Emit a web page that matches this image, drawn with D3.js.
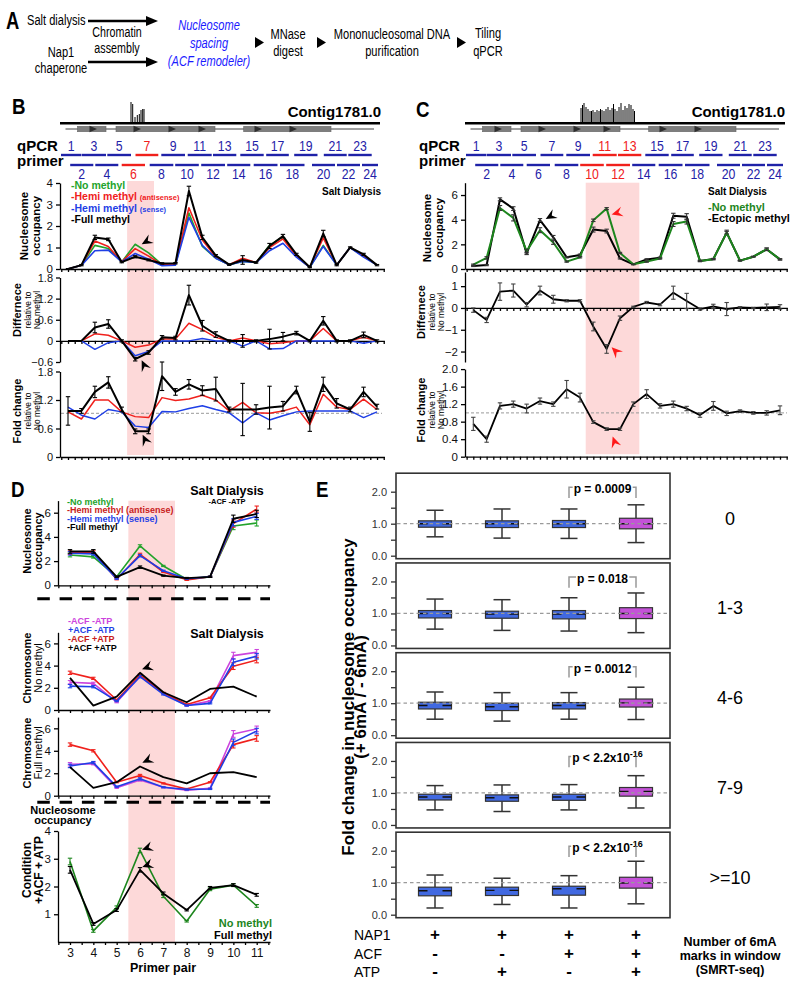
<!DOCTYPE html>
<html><head><meta charset="utf-8">
<script src="https://cdn.jsdelivr.net/npm/d3@7"></script>
<style>body{margin:0;background:#fff}svg{display:block}</style>
</head><body><svg id="fig" width="800" height="991"></svg>
<script>
// ================= DATA =================
// qPCR primers (position along contig window, arbitrary units)
const primerOdd = [1,3,5,7,9,11,13,15,17,19,21,23];
const primerOddStart = [1,22,47.3,75.5,101.3,127.7,153,180.3,206.2,234.2,263.8,288.3];
const primerOddEnd = [21.5,46,71,98.3,125,151.7,176.3,203.7,228.8,257.5,286.7,311.7];
const primerEven = [2,4,6,8,10,12,14,16,18,20,22,24];
const primerEvenStart = [10.2,35.3,61.7,89.7,115.2,141.2,167.2,193.7,220,252,277,302];
const primerEvenEnd = [33.3,58.3,85,113.3,138.8,165,190.3,217.5,244.5,275,300,318];
const redPrimersB = [6,7];
const redPrimersC = [10,11,12,13];
const contigExtent = [0,320];
const geneLineExtent = [5.5,314];
const geneStart = [17.5,56,183.7];
const geneEnd = [46,155,271];
const geneArrowPos = [33,77,112,142,198,233];
const marksBPos = [71,72.7,75,77.3,79.3,81,82.7,84];
const marksBH = [21,19,6,8,9,13,14,14];
const marksCPos = [116,117.5,119,121,123,125,126.5,128,130,132,134,135.5,137,139,141,143,145,147,148.5,150,152,154,156,158,160,162,164,166,168,169.5];
const marksCH = [15,18,20,16,14,12,12,13,11,13,12,14,13,12,14,16,13,15,19,14,12,16,20,13,17,15,19,18,14,12];

// Panel B (primer pairs 1..24)
const primerPairs24 = d3.range(1,25);
const bOccGreen = [0,0.17,1.1,0.95,0.33,1.15,0.75,0.2,0.22,2.6,1.05,0.5,0.2,0.35,0.3,1.1,1.5,0.6,0.08,1.1,0.18,1.0,0.6,0.18];
const bOccRed   = [0,0.17,1.3,1.05,0.33,0.95,0.6,0.2,0.22,2.85,1.35,0.55,0.2,0.5,0.3,1.0,1.4,0.6,0.08,1.45,0.18,1.0,0.62,0.18];
const bOccBlue  = [0,0.17,0.85,0.88,0.33,0.72,0.45,0.15,0.18,2.4,1.1,0.5,0.2,0.35,0.3,0.85,1.2,0.55,0.08,1.05,0.18,1.0,0.55,0.18];
const bOccBlack = [0,0.18,1.47,1.38,0.32,0.57,0.42,0.26,0.27,3.63,1.47,0.62,0.2,0.42,0.3,1.07,1.53,0.68,0.08,1.65,0.18,1.0,0.68,0.18];
const bOccBlackErr = [0.02,0.03,0.1,0.06,0.03,0.05,0.04,0.03,0.03,0.22,0.1,0.05,0.03,0.2,0.03,0.12,0.08,0.05,0.02,0.15,0.03,0.03,0.05,0.03];
const bDiffRed   = [0,0,0.2,0.16,0,-0.18,-0.12,0.05,0.05,0.5,0.32,0.1,0,0.08,0,-0.08,-0.05,0,0,0.35,0,0,0.1,0];
const bDiffBlue  = [0,0,-0.24,-0.05,0,-0.42,-0.3,0,0,0,0.07,0,0,-0.15,0,-0.23,-0.22,0,0,0,0,0,-0.07,0];
const bDiffBlack = [0,0,0.38,0.48,0,-0.52,-0.33,0.1,0.08,1.3,0.43,0.18,0,0,0,0.05,0.12,0.22,0,0.57,0,0,0.17,0];
const bDiffBlackErr = [0,0,0.15,0.12,0.03,0.05,0.05,0.05,0.05,0.28,0.15,0.08,0.03,0.18,0.03,0.28,0.12,0.05,0.03,0.12,0.03,0.03,0.08,0.03];
const bFoldRed   = [0.95,0.8,1.2,1.2,0.95,0.85,0.83,1.25,1.19,1.22,1.3,1.2,0.97,1.15,0.93,0.92,0.97,1.05,0.68,1.32,1.05,1.0,1.22,1.0];
const bFoldBlue  = [1.05,0.88,0.8,1.0,0.95,0.65,0.62,0.96,0.95,1.02,1.08,1.0,0.93,0.72,0.93,0.78,0.87,0.95,0.97,0.97,0.97,0.97,0.83,0.95];
const bFoldBlack = [0.97,0.97,1.37,1.57,1.0,0.54,0.54,1.7,1.37,1.53,1.4,1.43,1.0,1.0,1.0,1.04,1.07,1.41,0.74,1.53,1.13,1.0,1.37,1.06];
const bFoldBlackErr = [0.3,0.05,0.12,0.12,0.05,0.05,0.05,0.3,0.07,0.1,0.1,0.25,0.05,0.55,0.1,0.45,0.1,0.08,0.2,0.15,0.1,0.05,0.1,0.05];
const bFoldRef = 0.92;
const pinkB = [5.4,7.4];

// Panel C
const cOccGreen = [0.35,0.9,4.95,4.15,1.45,3.15,2.15,0.6,0.95,3.95,4.9,1.3,0.38,0.6,0.85,3.65,3.85,0.65,0.8,2.95,0.68,1.0,1.6,0.78];
const cOccGreenErr = [0.05,0.1,0.2,0.25,0.15,0.2,0.15,0.05,0.05,0.1,0.08,0.05,0.03,0.05,0.05,0.2,0.2,0.05,0.05,0.1,0.03,0.03,0.1,0.05];
const cOccBlack = [0.25,0.32,5.65,4.9,1.27,3.97,2.57,0.95,1.13,3.2,3.08,0.86,0.38,0.78,0.92,4.32,4.24,0.65,0.81,2.95,0.68,1.0,1.6,0.78];
const cOccBlackErr = [0.05,0.05,0.12,0.15,0.1,0.12,0.15,0.05,0.08,0.2,0.15,0.05,0.03,0.05,0.05,0.2,0.25,0.05,0.05,0.2,0.03,0.03,0.1,0.05];
const cDiff = [-0.1,-0.55,0.75,0.8,0.15,0.8,0.4,0.33,0.33,-0.85,-1.88,-0.47,0.05,0.25,0.15,0.7,0.32,-0.05,0.07,-0.05,0.03,0,0.03,0.05];
const cDiffErr = [0.1,0.12,0.4,0.3,0.1,0.2,0.18,0.05,0.05,0.2,0.2,0.1,0.03,0.05,0.05,0.3,0.35,0.05,0.1,0.3,0.03,0.03,0.15,0.1];
const cFold = [0.75,0.4,1.16,1.2,1.1,1.27,1.2,1.54,1.35,0.79,0.63,0.63,1.2,1.43,1.16,1.2,1.1,0.95,1.16,0.99,1.04,1.0,1.0,1.06];
const cFoldErr = [0.15,0.07,0.07,0.07,0.1,0.07,0.05,0.2,0.1,0.03,0.03,0.03,0.05,0.1,0.05,0.07,0.05,0.05,0.1,0.05,0.03,0.03,0.05,0.1];
const cFoldRef = 1.0;
const pinkC = [9.43,13.45];

// Panel D (primer pairs 3..11)
const primerPairsD = [3,4,5,6,7,8,9,10,11];
const dOccGreen = [2.5,2.35,0.7,3.25,1.6,0.5,0.7,4.9,5.15];
const dOccRed   = [2.7,2.75,0.5,2.55,1.1,0.45,0.7,5.1,6.3];
const dOccBlue  = [2.65,2.6,0.55,2.45,1.2,0.55,0.7,5.2,5.7];
const dOccBlack = [2.8,2.8,0.7,1.5,0.8,0.6,0.7,5.5,5.9];
const dOccErr   = [0.15,0.15,0.05,0.1,0.05,0.05,0.05,0.3,0.3];
const dNoMag   = [2.5,2.4,0.7,3.05,1.5,0.4,0.8,4.9,5.2];
const dNoBlue  = [2.15,2.1,0.8,3.0,1.4,0.4,0.6,4.3,4.85];
const dNoRed   = [3.35,2.85,0.9,3.15,1.55,0.5,1.1,3.95,4.5];
const dNoBlack = [2.9,0.4,1.2,3.35,1.6,0.7,1.9,2.1,1.2];
const dFullMag   = [2.8,2.85,0.7,1.4,0.75,0.5,0.65,5.5,5.95];
const dFullBlue  = [2.65,2.95,0.8,1.5,0.75,0.55,0.6,4.75,5.75];
const dFullRed   = [4.55,4.0,1.2,1.8,1.1,0.6,1.2,4.55,5.1];
const dFullBlack = [2.55,0.7,1.2,2.6,1.65,1.1,2.0,2.1,1.65];
const dSmallErr  = [0.15,0.1,0.05,0.1,0.05,0.05,0.05,0.3,0.25];
const dCondGreen = [2.9,0.4,1.25,3.3,1.65,0.75,1.9,2.05,1.3];
const dCondBlack = [2.6,0.65,1.15,2.6,1.75,1.15,1.95,2.05,1.7];
const dCondErr   = [0.12,0.05,0.05,0.08,0.05,0.03,0.05,0.05,0.05];
const pinkD = [5.5,7.5];

// Panel E (box plots)
const eCond = ['NAP1','NAP1+ATP','NAP1+ACF','NAP1+ACF+ATP'];
const eLabels = ['0','1-3','4-6','7-9','>=10'];
const ePvals = ['p = 0.0009','p = 0.018','p = 0.0012','p < 2.2x10','p < 2.2x10'];
const ePsup  = ['','','','-16','-16'];
const eWhiskLo = [[0.59,0.55,0.54,0.41],[0.51,0.47,0.45,0.40],[0.50,0.44,0.50,0.49],[0.47,0.42,0.47,0.53],[0.21,0.32,0.21,0.34]];
const eQ1      = [[0.89,0.88,0.88,0.84],[0.86,0.85,0.83,0.84],[0.82,0.77,0.82,0.88],[0.78,0.74,0.77,0.90],[0.59,0.60,0.61,0.83]];
const eMed     = [[1.0,1.0,1.0,1.0],[1.0,0.98,0.98,1.0],[0.93,0.89,0.93,1.01],[0.875,0.85,0.875,1.05],[0.75,0.76,0.81,0.99]];
const eQ3      = [[1.09,1.09,1.10,1.17],[1.09,1.07,1.09,1.18],[1.03,1.0,1.02,1.13],[0.96,0.94,0.96,1.17],[0.86,0.86,0.89,1.17]];
const eWhiskHi = [[1.42,1.46,1.46,1.59],[1.45,1.43,1.49,1.64],[1.35,1.33,1.33,1.50],[1.23,1.25,1.26,1.54],[1.24,1.14,1.22,1.67]];
const eNAP1 = ['+','+','+','+'];
const eACF  = ['-','-','+','+'];
const eATP  = ['-','+','-','+'];

// ================= STYLE =================
const FF = "'Liberation Sans', Arial, Helvetica, sans-serif";
const GREEN_B = '#23a32b', GREEN_C = '#1d861d', RED = '#f0201c', BLUE = '#1f3fe6', MAG = '#cc44dd',
      NAVY = '#1f22a8', PINK = '#fdd9d9', BOXBLUE = '#4169e1', BOXMAG = '#c452d8';

const svg = d3.select('#fig');
svg.append('rect').attr('width',800).attr('height',991).attr('fill','#fff');

function T(g, x, y, s, o = {}) {
  let tr = `translate(${x},${y})`;
  if (o.rot) tr += ` rotate(${o.rot})`;
  if (o.sx) tr += ` scale(${o.sx},1)`;
  const t = g.append('text').attr('transform', tr)
    .attr('font-family', FF).attr('font-size', o.size || 12)
    .attr('font-weight', o.bold ? 'bold' : 'normal')
    .attr('text-anchor', o.anchor || 'start')
    .attr('fill', o.fill || '#000');
  if (o.italic) t.attr('font-style', 'italic');
  if (s !== null && s !== undefined) t.text(s);
  return t;
}
function series(g, xs, ys, xv, vals, color, w, errs, errColor) {
  const line = d3.line().x((d,i) => xs(xv[i])).y(d => ys(d));
  g.append('path').datum(vals).attr('d', line).attr('fill','none')
    .attr('stroke', color).attr('stroke-width', w).attr('stroke-linejoin','round');
  if (errs) {
    const ec = errColor || color;
    vals.forEach((v,i) => {
      const e = errs[i]; if (!e) return;
      const x = xs(xv[i]);
      g.append('line').attr('x1',x).attr('x2',x).attr('y1',ys(v-e)).attr('y2',ys(v+e)).attr('stroke',ec).attr('stroke-width',1.1);
      [v-e, v+e].forEach(u => g.append('line').attr('x1',x-2.2).attr('x2',x+2.2).attr('y1',ys(u)).attr('y2',ys(u)).attr('stroke',ec).attr('stroke-width',1.1));
    });
  }
}
function axisY(g, scale, x, ticks, fmt, fs) {
  const a = g.append('g').attr('transform', `translate(${x},0)`)
    .call(d3.axisLeft(scale).tickValues(ticks).tickFormat(fmt).tickSize(4).tickSizeOuter(0).tickPadding(3));
  a.selectAll('path,line').attr('stroke','#000').attr('stroke-width',1.3);
  a.selectAll('text').attr('font-family',FF).attr('font-size',fs || 12).attr('fill','#111');
  return a;
}
function axisXMinor(g, xs, lo, hi, y, first, last) {
  const s = d3.scaleLinear().domain([lo,hi]).range([xs(lo), xs(hi)]);
  const a = g.append('g').attr('transform', `translate(0,${y})`)
    .call(d3.axisBottom(s).tickValues(d3.range(first, last + 1e-6, 0.5)).tickFormat('').tickSize(3).tickSizeOuter(0));
  a.selectAll('path,line').attr('stroke','#000').attr('stroke-width',1.3);
  return a;
}
function arrowHead(g, x, y, ang, color) {
  g.append('path').attr('d','M0,0 L-11,-5 L-7,0 L-11,5 Z').attr('fill', color)
    .attr('transform', `translate(${x},${y}) rotate(${ang})`);
}
function yTitle(g, cy, lines) { // lines: [x, text, size, bold]
  lines.forEach(l => T(g, l[0], cy, l[1], {size:l[2], bold:l[3], anchor:'middle', rot:-90}));
}
function legend(g, x, y0, dy, items, fs, fsSmall) {
  items.forEach((it,i) => {
    const t = T(g, x, y0 + i*dy, null, {size:fs, bold:true, fill:it[2]});
    t.append('tspan').text(it[0]);
    if (it[1]) t.append('tspan').attr('font-size', fsSmall).text(it[1]);
  });
}

// ================= PANEL A =================
(function(){
  const g = svg.append('g');
  const aT = {size:15, sx:0.74};
  T(g, 6, 29, 'A', {size:23, bold:true, sx:0.8});
  T(g, 27, 25, 'Salt dialysis', aT);
  const arrowA = (x1, x2, y) => {
    g.append('line').attr('x1',x1).attr('x2',x2-10).attr('y1',y).attr('y2',y).attr('stroke','#000').attr('stroke-width',2.4);
    g.append('path').attr('d',`M${x2},${y} L${x2-12},${y-5} L${x2-12},${y+5} Z`).attr('fill','#000');
  };
  arrowA(88, 158, 21); arrowA(88, 158, 62);
  T(g, 117, 37, 'Chromatin', {...aT, size:14.5, anchor:'middle'});
  T(g, 117, 53, 'assembly', {...aT, size:14.5, anchor:'middle'});
  T(g, 61, 57, 'Nap1', {...aT, anchor:'middle'});
  T(g, 61, 73, 'chaperone', {...aT, anchor:'middle'});
  const blue = {...aT, anchor:'middle', italic:true, fill:'#1a1aff'};
  T(g, 209, 30, 'Nucleosome', blue);
  T(g, 209, 47.5, 'spacing', blue);
  T(g, 209, 65.5, '(ACF remodeler)', blue);
  [255, 317, 457].forEach(x => g.append('path').attr('d',`M${x},37 L${x+9},42.5 L${x},48 Z`).attr('fill','#000'));
  T(g, 288, 38.5, 'MNase', {...aT, anchor:'middle'});
  T(g, 288, 56, 'digest', {...aT, anchor:'middle'});
  T(g, 392, 38.5, 'Mononucleosomal DNA', {...aT, anchor:'middle'});
  T(g, 392, 56, 'purification', {...aT, anchor:'middle'});
  T(g, 488, 38, 'Tiling', {...aT, anchor:'middle'});
  T(g, 488, 56, 'qPCR', {...aT, anchor:'middle'});
})();

// ================= HEADERS (B & C) =================
function drawHeader(gs, marksPos, marksH, redSet, labelX, contigRight, letter, letterX, letterY) {
  const g = svg.append('g');
  const hS = d3.scaleLinear().domain([0,21]).range([0,21]);
  g.append('line').attr('x1', gs(contigExtent[0])).attr('x2', gs(contigExtent[1]))
    .attr('y1',123.3).attr('y2',123.3).attr('stroke','#000').attr('stroke-width',2.6);
  marksPos.forEach((p,i) => g.append('line').attr('x1',gs(p)).attr('x2',gs(p))
    .attr('y1',123).attr('y2',123 - hS(marksH[i])).attr('stroke','#000').attr('stroke-width',1));
  g.append('line').attr('x1', gs(geneLineExtent[0])).attr('x2', gs(geneLineExtent[1]))
    .attr('y1',129).attr('y2',129).attr('stroke','#a0a0a0').attr('stroke-width',1.8);
  geneStart.forEach((s,i) => g.append('rect').attr('x',gs(s)).attr('y',126.3)
    .attr('width', gs(geneEnd[i]) - gs(s)).attr('height',5.4).attr('fill','#7e7e7e').attr('stroke','#666').attr('stroke-width',0.6));
  geneArrowPos.forEach(p => g.append('path')
    .attr('d', `M${gs(p)-3.5},125.8 L${gs(p)+4},129 L${gs(p)-3.5},132.2 Z`).attr('fill','#2e2e2e'));
  primerOdd.forEach((n,i) => {
    const col = redSet.includes(n) ? RED : NAVY;
    const a = gs(primerOddStart[i]), b = gs(primerOddEnd[i]);
    g.append('line').attr('x1',a).attr('x2',b).attr('y1',155).attr('y2',155).attr('stroke',col).attr('stroke-width',2.4);
    T(g, (a+b)/2, 150.5, String(n), {size:15, anchor:'middle', fill:col, sx:0.82});
  });
  primerEven.forEach((n,i) => {
    const col = redSet.includes(n) ? RED : NAVY;
    const a = gs(primerEvenStart[i]), b = gs(primerEvenEnd[i]);
    g.append('line').attr('x1',a).attr('x2',b).attr('y1',165).attr('y2',165).attr('stroke',col).attr('stroke-width',2.4);
    T(g, (a+b)/2, 178.5, String(n), {size:15, anchor:'middle', fill:col, sx:0.82});
  });
  T(g, labelX, 151, 'qPCR', {size:15, bold:true});
  T(g, labelX, 166, 'primer', {size:15, bold:true});
  T(g, contigRight, 117, 'Contig1781.0', {size:15, bold:true, anchor:'end'});
  T(g, letterX, letterY, letter, {size:22, bold:true, sx:0.85});
}
const gBs = d3.scaleLinear().domain([0,320]).range([60,380]);
const gCs = d3.scaleLinear().domain([0,320]).range([465,785]);
drawHeader(gBs, marksBPos, marksBH, redPrimersB, 17, 381, 'B', 12, 114);
drawHeader(gCs, marksCPos, marksCH, redPrimersC, 419, 785, 'C', 416, 117);

// ================= PANEL B =================
const fmt1 = v => v === 0 ? '0' : d3.format('.1f')(v);
const xB = d3.scaleLinear().domain([1,24]).range([68,377]);
(function(){
  const g = svg.append('g');
  g.append('rect').attr('x', xB(pinkB[0])).attr('width', xB(pinkB[1]) - xB(pinkB[0]))
    .attr('y',181).attr('height',274).attr('fill',PINK);
  // occupancy
  const yO = d3.scaleLinear().domain([0,4]).range([269,183]);
  axisY(g, yO, 60, [0,1,2,3,4], d3.format('d'), 11.5);
  axisXMinor(g, xB, 0.405, 24.55, 269, 0.5, 24.5);
  series(g, xB, yO, primerPairs24, bOccGreen, GREEN_B, 1.6);
  series(g, xB, yO, primerPairs24, bOccRed, RED, 1.6);
  series(g, xB, yO, primerPairs24, bOccBlue, BLUE, 1.6);
  series(g, xB, yO, primerPairs24, bOccBlack, '#000', 2, bOccBlackErr);
  legend(g, 71, 189, 11.3, [['-No methyl','',GREEN_B],['-Hemi methyl ','(antisense)',RED],['-Hemi methyl ','(sense)',BLUE],['-Full methyl','','#000']], 10.5, 7.5);
  T(g, 381, 195, 'Salt Dialysis', {size:10, bold:true, anchor:'end'});
  arrowHead(g, xB(6)+6.5, yO(1.15), 150, '#000');
  yTitle(g, 226, [[28,'Nucleosome',11.5,true],[40,'occupancy',11.5,true]]);
  // difference
  const yD = d3.scaleLinear().domain([-0.6,1.8]).range([362,277.5]);
  axisY(g, yD, 60, [-0.6,0,0.6,1.2,1.8], fmt1, 11);
  axisXMinor(g, xB, 0.405, 24.55, yD(0), 0.5, 24.5);
  series(g, xB, yD, primerPairs24, bDiffRed, RED, 1.5);
  series(g, xB, yD, primerPairs24, bDiffBlue, BLUE, 1.5);
  series(g, xB, yD, primerPairs24, bDiffBlack, '#000', 2, bDiffBlackErr);
  arrowHead(g, xB(6)+6.5, yD(-0.55), -115, '#000');
  yTitle(g, 310, [[21,'Differnece',11,true],[30.5,'relative to',8.5,false],[40,'No methyl',8.5,false]]);
  // fold change
  const yF = d3.scaleLinear().domain([0,1.8]).range([457,371.5]);
  g.append('line').attr('x1',61).attr('x2',382).attr('y1',yF(bFoldRef)).attr('y2',yF(bFoldRef))
    .attr('stroke','#999').attr('stroke-width',1).attr('stroke-dasharray','3,2');
  axisY(g, yF, 60, [0,0.6,1.2,1.8], fmt1, 11);
  axisXMinor(g, xB, 0.405, 24.55, 457, 0.5, 24.5);
  series(g, xB, yF, primerPairs24, bFoldRed, RED, 1.5);
  series(g, xB, yF, primerPairs24, bFoldBlue, BLUE, 1.5);
  series(g, xB, yF, primerPairs24, bFoldBlack, '#000', 2, bFoldBlackErr);
  arrowHead(g, xB(6)+7.5, yF(0.47), -115, '#000');
  yTitle(g, 411, [[21,'Fold change',11,true],[30.5,'relative to',8.5,false],[40,'No methyl',8.5,false]]);
})();

// ================= PANEL C =================
const xC = d3.scaleLinear().domain([1,24]).range([473.3,780]);
(function(){
  const g = svg.append('g');
  g.append('rect').attr('x', xC(pinkC[0])).attr('width', xC(pinkC[1]) - xC(pinkC[0]))
    .attr('y',182.7).attr('height',271.5).attr('fill',PINK);
  const yO = d3.scaleLinear().domain([0,7]).range([269,182.7]);
  axisY(g, yO, 465, [0,2,4,6], d3.format('d'), 11.5);
  axisXMinor(g, xC, 0.38, 24.55, 269, 0.5, 24.5);
  series(g, xC, yO, primerPairs24, cOccBlack, '#000', 2, cOccBlackErr, '#333');
  series(g, xC, yO, primerPairs24, cOccGreen, GREEN_C, 2, cOccGreenErr, '#333');
  T(g, 708, 195, 'Salt Dialysis', {size:10, bold:true});
  legend(g, 708, 210.5, 11.5, [['-No methyl','',GREEN_C],['-Ectopic methyl','','#000']], 11, 8);
  arrowHead(g, xC(6)+5.7, yO(4.05), 150, '#000');
  arrowHead(g, xC(11)+5, yO(4.43), 165, '#ff1a1a');
  yTitle(g, 228, [[431,'Nucleosome',11.5,true],[443,'occupancy',11.5,true]]);
  // difference
  const yD = d3.scaleLinear().domain([-2.48,1.65]).range([362,272]);
  axisY(g, yD, 465, [-2,-1,0,1], d3.format('d'), 11.5);
  axisXMinor(g, xC, 0.38, 24.55, yD(0), 0.5, 24.5);
  series(g, xC, yD, primerPairs24, cDiff, '#000', 1.8, cDiffErr, '#444');
  arrowHead(g, xC(11)+5, yD(-1.8), -135, '#ff1a1a');
  yTitle(g, 312, [[425,'Differnece',11,true],[434.5,'relative to',8.5,false],[444,'No methyl',8.5,false]]);
  // fold change
  const yF = d3.scaleLinear().domain([0,2]).range([456.7,369.1]);
  g.append('line').attr('x1',466).attr('x2',787).attr('y1',yF(cFoldRef)).attr('y2',yF(cFoldRef))
    .attr('stroke','#999').attr('stroke-width',1).attr('stroke-dasharray','3,2');
  axisY(g, yF, 465, [0,0.4,0.8,1.2,1.6,2.0], fmt1, 11.5);
  axisXMinor(g, xC, 0.38, 24.55, 456.7, 0.5, 24.5);
  series(g, xC, yF, primerPairs24, cFold, '#000', 1.8, cFoldErr, '#444');
  arrowHead(g, xC(11)+6, yF(0.46), -110, '#ff1a1a');
  yTitle(g, 410, [[425,'Fold change',11,true],[434.5,'relative to',8.5,false],[444,'No methyl',8.5,false]]);
})();

// ================= PANEL D =================
const xD = d3.scaleLinear().domain([3,11]).range([70,256.7]);
(function(){
  const g = svg.append('g');
  T(g, 11, 497, 'D', {size:22, bold:true, sx:0.85});
  const yAxisBottom = 942;
  g.append('rect').attr('x', xD(pinkD[0])).attr('width', xD(pinkD[1]) - xD(pinkD[0]))
    .attr('y',500.7).attr('height',yAxisBottom - 500.7).attr('fill',PINK);
  const lo = 2.486, hi = 11.57;
  // occupancy
  const y1 = d3.scaleLinear().domain([0,7]).range([585.3,500.6]);
  axisY(g, y1, 58, [0,2,4,6], d3.format('d'), 11.5);
  axisXMinor(g, xD, lo, hi, 585.3, 2.5, 11.5);
  series(g, xD, y1, primerPairsD, dOccGreen, GREEN_B, 1.6, dSmallErr);
  series(g, xD, y1, primerPairsD, dOccRed, RED, 1.6, dSmallErr);
  series(g, xD, y1, primerPairsD, dOccBlue, BLUE, 1.6, dSmallErr);
  series(g, xD, y1, primerPairsD, dOccBlack, '#000', 1.8, dOccErr);
  legend(g, 67, 505, 8.4, [['-No methyl','',GREEN_B],['-Hemi methyl (antisense)','','#c82020'],['-Hemi methyl (sense)','',BLUE],['-Full methyl','','#000']], 9, 8);
  T(g, 227, 495, 'Salt Dialysis', {size:12.5, bold:true, anchor:'middle'});
  T(g, 227, 503.5, '-ACF -ATP', {size:7.5, bold:true, anchor:'middle'});
  yTitle(g, 541, [[31,'Nucleosome',11,true],[42,'occupancy',11,true]]);
  // separators
  [598.7, 802.3].forEach(y => g.append('line').attr('x1',37.3).attr('x2',270).attr('y1',y).attr('y2',y)
    .attr('stroke','#000').attr('stroke-width',3).attr('stroke-dasharray','12.5,9.8'));
  // chromosome no methyl
  const y2 = d3.scaleLinear().domain([0,7]).range([710,632.3]);
  axisY(g, y2, 58, [0,2,4,6], d3.format('d'), 11.5);
  axisXMinor(g, xD, lo, hi, 710, 2.5, 11.5);
  series(g, xD, y2, primerPairsD, dNoMag, MAG, 1.6, dSmallErr);
  series(g, xD, y2, primerPairsD, dNoRed, RED, 1.6, dSmallErr);
  series(g, xD, y2, primerPairsD, dNoBlue, BLUE, 1.6, dSmallErr);
  series(g, xD, y2, primerPairsD, dNoBlack, '#000', 1.8);
  legend(g, 68, 624, 9.1, [['-ACF -ATP','',MAG],['+ACF -ATP','',BLUE],['-ACF +ATP','','#c82020'],['+ACF +ATP','','#000']], 9, 8);
  T(g, 227, 638, 'Salt Dialysis', {size:12.5, bold:true, anchor:'middle'});
  arrowHead(g, xD(6)+2, y2(3.67), 160, '#000');
  yTitle(g, 668, [[31,'Chromosome',11,true],[42,'No methyl',11,false]]);
  // chromosome full methyl
  const y3 = d3.scaleLinear().domain([0,7]).range([795.7,717.1]);
  axisY(g, y3, 58, [0,2,4,6], d3.format('d'), 11.5);
  axisXMinor(g, xD, lo, hi, 795.7, 2.5, 11.5);
  series(g, xD, y3, primerPairsD, dFullMag, MAG, 1.6, dSmallErr);
  series(g, xD, y3, primerPairsD, dFullRed, RED, 1.6, dSmallErr);
  series(g, xD, y3, primerPairsD, dFullBlue, BLUE, 1.6, dSmallErr);
  series(g, xD, y3, primerPairsD, dFullBlack, '#000', 1.8);
  arrowHead(g, xD(6)+2.3, y3(2.94), 155, '#000');
  yTitle(g, 753, [[31,'Chromosome',11,true],[42,'Full methyl',11,false]]);
  T(g, 63, 813.5, 'Nucleosome', {size:11, bold:true, anchor:'middle'});
  T(g, 63, 823.5, 'occupancy', {size:11, bold:true, anchor:'middle'});
  // condition +ACF +ATP
  const y4 = d3.scaleLinear().domain([0,4]).range([yAxisBottom,831]);
  axisY(g, y4, 58, [1,2,3,4], d3.format('d'), 11.5);
  const ax = g.append('g').attr('transform',`translate(0,${yAxisBottom})`)
    .call(d3.axisBottom(d3.scaleLinear().domain([lo,hi]).range([xD(lo),xD(hi)]))
      .tickValues(d3.range(2.5, 11.5 + 1e-6, 0.5)).tickFormat(v => Number.isInteger(v) ? v : '')
      .tickSize(3).tickSizeOuter(0).tickPadding(3));
  ax.selectAll('path,line').attr('stroke','#000').attr('stroke-width',1.3);
  ax.selectAll('text').attr('font-family',FF).attr('font-size',12).attr('fill','#111');
  series(g, xD, y4, primerPairsD, dCondGreen, GREEN_C, 1.6, dCondErr);
  series(g, xD, y4, primerPairsD, dCondBlack, '#000', 1.8, dCondErr);
  arrowHead(g, xD(6)+2, y4(3.32), 160, '#000');
  arrowHead(g, xD(6)+2.3, y4(2.7), 160, '#000');
  T(g, 272, 927, 'No methyl', {size:11, bold:true, anchor:'end', fill:GREEN_C});
  T(g, 272, 938.5, 'Full methyl', {size:11, bold:true, anchor:'end'});
  T(g, 163, 972, 'Primer pair', {size:12.5, bold:true, anchor:'middle'});
  yTitle(g, 870, [[31,'Condition',12,true],[43,'+ACF + ATP',12,true]]);
})();

// ================= PANEL E =================
const xE = d3.scalePoint().domain(eCond).range([435,636]);
(function(){
  const g = svg.append('g');
  T(g, 316, 497, 'E', {size:22, bold:true, sx:0.85});
  const bw = 33, cw = 17;
  eLabels.forEach((lab,k) => {
    const t2 = 491.7 + k*89.75;
    const ys = d3.scaleLinear().domain([0,2]).range([t2+64, t2]);
    const pg = g.append('g');
    eCond.forEach((c,j) => {
      const x = xE(c), col = j === 3 ? BOXMAG : BOXBLUE;
      const st = s => s.attr('stroke','#333').attr('stroke-width',1.5);
      st(pg.append('line').attr('x1',x).attr('x2',x).attr('y1',ys(eWhiskHi[k][j])).attr('y2',ys(eQ3[k][j])));
      st(pg.append('line').attr('x1',x).attr('x2',x).attr('y1',ys(eQ1[k][j])).attr('y2',ys(eWhiskLo[k][j])));
      st(pg.append('line').attr('x1',x-cw/2).attr('x2',x+cw/2).attr('y1',ys(eWhiskHi[k][j])).attr('y2',ys(eWhiskHi[k][j])));
      st(pg.append('line').attr('x1',x-cw/2).attr('x2',x+cw/2).attr('y1',ys(eWhiskLo[k][j])).attr('y2',ys(eWhiskLo[k][j])));
      pg.append('rect').attr('x',x-bw/2).attr('width',bw).attr('y',ys(eQ3[k][j]))
        .attr('height', ys(eQ1[k][j]) - ys(eQ3[k][j])).attr('fill',col).attr('stroke','#333').attr('stroke-width',1.2);
      pg.append('line').attr('x1',x-bw/2).attr('x2',x+bw/2).attr('y1',ys(eMed[k][j])).attr('y2',ys(eMed[k][j]))
        .attr('stroke','#111').attr('stroke-width',1.4).attr('stroke-dasharray','9,15,9');
    });
    pg.append('line').attr('x1',397).attr('x2',669).attr('y1',ys(1)).attr('y2',ys(1))
      .attr('stroke','#9a9a9a').attr('stroke-width',1.2).attr('stroke-dasharray','3.5,3');
    pg.append('rect').attr('x',396).attr('y',t2-18.5).attr('width',274).attr('height',85.5)
      .attr('fill','none').attr('stroke','#333').attr('stroke-width',1.6);
    const a = pg.append('g').attr('transform','translate(396,0)')
      .call(d3.axisLeft(ys).tickValues([0,0.5,1,1.5,2]).tickFormat(v => Number.isInteger(v) ? v.toFixed(1) : '').tickSize(5).tickPadding(4));
    a.select('.domain').remove();
    a.selectAll('line').attr('stroke','#333').attr('stroke-width',1.3);
    a.selectAll('text').attr('font-family',FF).attr('font-size',11).attr('fill','#333');
    // p-value bracket
    const xa = xE(eCond[2]), xb = xE(eCond[3]);
    const cx = (xa + xb)/2 + (ePsup[k] ? 5 : 0);
    const pt = pg.append('text').attr('x',cx).attr('y',t2+1.5).attr('text-anchor','middle')
      .attr('font-family',FF).attr('font-size',12).attr('font-weight','bold');
    pt.append('tspan').text(ePvals[k]);
    if (ePsup[k]) pt.append('tspan').attr('dy',-5.5).attr('font-size',9).text(ePsup[k]);
    const bb = pt.node().getBBox();
    const yTop = t2 - 4.4, yLeg = ys(1.8);
    pg.append('path').attr('d',`M${xa},${yLeg} V${yTop} H${Math.max(xa, bb.x-1)}`)
      .attr('fill','none').attr('stroke','#999').attr('stroke-width',1.5);
    const rx = ePsup[k] ? xb : Math.min(xb, bb.x + bb.width + 1);
    pg.append('path').attr('d',`M${rx},${yTop} H${xb} V${yLeg}`)
      .attr('fill','none').attr('stroke','#999').attr('stroke-width',1.5);
    T(g, 730, ys(1) + 1, lab, {size:18, anchor:'middle'});
  });
  // y title
  T(g, 354, 697, 'Fold change in nucleosome occupancy', {size:17, bold:true, anchor:'middle', rot:-90});
  T(g, 366, 697, '(+ 6mA / - 6mA)', {size:17, bold:true, anchor:'middle', rot:-90});
  // condition rows
  const rows = [['NAP1', eNAP1, 940], ['ACF', eACF, 958.5], ['ATP', eATP, 977]];
  rows.forEach(r => {
    T(g, 354, r[2], r[0], {size:14});
    eCond.forEach((c,j) => T(g, xE(c), r[2], r[1][j], {size:17, bold:true, anchor:'middle'}));
  });
  T(g, 730, 946, 'Number of 6mA', {size:12.5, bold:true, anchor:'middle'});
  T(g, 730, 960, 'marks in window', {size:12.5, bold:true, anchor:'middle'});
  T(g, 730, 974, '(SMRT-seq)', {size:12.5, bold:true, anchor:'middle'});
})();
</script>
</body></html>
